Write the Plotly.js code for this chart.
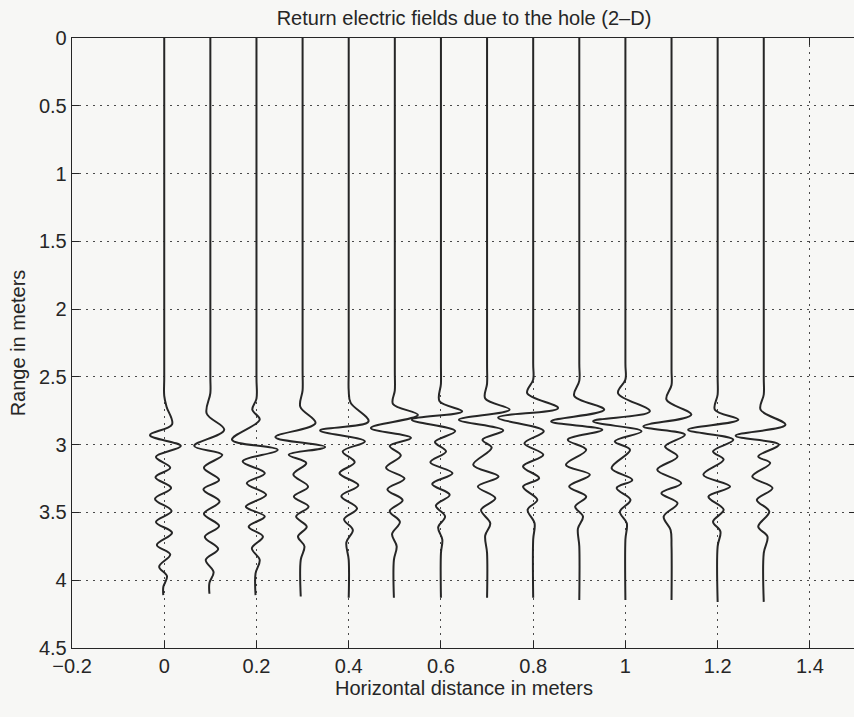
<!DOCTYPE html>
<html>
<head>
<meta charset="utf-8">
<script src="https://cdn.plot.ly/plotly-3.0.1.min.js"></script>
<style>
html, body { margin:0; padding:0; overflow:hidden; background:#f7f7f5; }
#chart { width:860px; height:717px; }
</style>
</head>
<body>
<div id="chart"></div>
<script>
// Horizontal positions of the 14 traces (meters)
const tracePositions = [0, 0.1, 0.2, 0.3, 0.4, 0.5, 0.6, 0.7, 0.8, 0.9, 1.0, 1.1, 1.2, 1.3];

// Each trace: range samples (m) and field deflection (in x-axis units)
const depth0 = [0, 2.5, 2.64, 2.72, 2.85, 2.93, 3.01, 3.09, 3.17, 3.24, 3.32, 3.40, 3.49, 3.57, 3.65, 3.74, 3.81, 3.90, 3.97, 4.05, 4.11];
const field0 = [0, 0, 0, 0.005, 0.017, -0.031, 0.036, -0.018, 0.013, -0.019, 0.015, -0.020, 0.016, -0.018, 0.017, -0.016, 0.013, -0.011, 0.006, -0.002, -0.002];

const depth1 = [0, 2.5, 2.62, 2.77, 2.89, 3.01, 3.075, 3.17, 3.26, 3.33, 3.42, 3.51, 3.60, 3.68, 3.77, 3.85, 3.94, 4.02, 4.10];
const field1 = [0, 0, 0, -0.008, 0.030, -0.035, 0.026, -0.014, 0.019, -0.015, 0.020, -0.014, 0.019, -0.012, 0.017, -0.010, 0.007, -0.002, -0.002];

const depth2 = [0, 2.5, 2.66, 2.742, 2.816, 2.964, 3.038, 3.124, 3.21, 3.284, 3.37, 3.457, 3.53, 3.605, 3.678, 3.764, 3.85, 3.95, 4.11];
const field2 = [0, 0, 0, -0.009, 0.007, -0.053, 0.046, -0.030, 0.018, -0.021, 0.021, -0.023, 0.018, -0.017, 0.014, -0.010, 0.007, -0.002, -0.002];

const depth3 = [0, 2.45, 2.6, 2.72, 2.84, 2.944, 3.018, 3.075, 3.136, 3.22, 3.31, 3.383, 3.457, 3.53, 3.605, 3.678, 3.75, 3.85, 4.12];
const field3 = [0, 0, 0, -0.005, 0.028, -0.059, 0.049, -0.030, 0.008, -0.020, 0.012, -0.019, 0.013, -0.014, 0.009, -0.010, 0.004, -0.004, -0.004];

const depth4 = [0, 2.45, 2.6, 2.69, 2.828, 2.895, 2.976, 3.05, 3.13, 3.21, 3.30, 3.38, 3.47, 3.55, 3.63, 3.72, 3.85, 4.13];
const field4 = [0, 0, 0, 0.004, 0.043, -0.062, 0.035, -0.013, 0.013, -0.020, 0.021, -0.016, 0.018, -0.010, 0.009, -0.005, 0, 0];

const depth5 = [0, 2.45, 2.6, 2.70, 2.78, 2.877, 2.95, 3.01, 3.08, 3.17, 3.25, 3.33, 3.41, 3.49, 3.57, 3.66, 3.75, 3.85, 4.13];
const field5 = [0, 0, 0, -0.004, 0.050, -0.052, 0.035, -0.011, 0.013, -0.019, 0.021, -0.016, 0.017, -0.011, 0.011, -0.006, 0.004, -0.002, -0.002];

const depth6 = [0, 2.4, 2.55, 2.68, 2.754, 2.816, 2.90, 2.98, 3.05, 3.13, 3.21, 3.29, 3.37, 3.45, 3.53, 3.61, 3.70, 3.80, 4.13];
const field6 = [0, 0, 0, -0.003, 0.046, -0.063, 0.031, -0.013, 0.011, -0.023, 0.025, -0.019, 0.019, -0.011, 0.009, -0.006, 0.003, 0, 0];

const depth7 = [0, 2.4, 2.55, 2.66, 2.742, 2.816, 2.895, 2.964, 3.023, 3.149, 3.235, 3.309, 3.395, 3.481, 3.58, 3.67, 3.80, 4.13];
const field7 = [0, 0, 0, -0.004, 0.049, -0.061, 0.035, -0.010, 0.010, -0.030, 0.025, -0.020, 0.018, -0.013, 0.007, -0.004, 0, 0];

const depth8 = [0, 2.4, 2.52, 2.62, 2.73, 2.80, 2.90, 2.99, 3.075, 3.16, 3.247, 3.31, 3.407, 3.48, 3.58, 3.70, 4.13];
const field8 = [0, 0, 0, -0.013, 0.054, -0.076, 0.023, -0.019, 0.022, -0.022, 0.013, -0.022, 0.009, -0.012, 0.003, 0, 0];

const depth9 = [0, 2.4, 2.53, 2.64, 2.742, 2.828, 2.89, 2.964, 3.038, 3.149, 3.222, 3.309, 3.383, 3.457, 3.53, 3.62, 3.75, 4.146];
const field9 = [0, 0, 0, -0.011, 0.054, -0.061, 0.050, -0.025, 0.015, -0.029, 0.023, -0.022, 0.015, -0.009, 0.008, -0.003, 0, 0];

const depth10 = [0, 2.4, 2.52, 2.62, 2.754, 2.828, 2.902, 2.976, 3.038, 3.173, 3.26, 3.32, 3.407, 3.494, 3.58, 3.70, 4.146];
const field10 = [0, 0, 0, -0.016, 0.053, -0.070, 0.035, -0.023, 0.010, -0.030, 0.015, -0.019, 0.011, -0.012, 0.003, 0, 0];

const depth11 = [0, 2.45, 2.56, 2.668, 2.779, 2.865, 2.927, 3.013, 3.087, 3.185, 3.284, 3.358, 3.432, 3.53, 3.63, 3.75, 4.146];
const field11 = [0, 0, 0, -0.011, 0.043, -0.061, 0.029, -0.014, 0.013, -0.031, 0.021, -0.022, 0.013, -0.017, -0.002, 0, 0];

const depth12 = [0, 2.5, 2.63, 2.742, 2.816, 2.89, 2.964, 3.05, 3.11, 3.222, 3.309, 3.383, 3.48, 3.568, 3.641, 3.75, 4.16];
const field12 = [0, 0, 0, -0.006, 0.045, -0.064, 0.034, -0.010, 0.013, -0.031, 0.027, -0.020, 0.013, -0.010, 0.006, 0, 0];

const depth13 = [0, 2.5, 2.63, 2.742, 2.853, 2.934, 3.0, 3.087, 3.136, 3.235, 3.32, 3.407, 3.494, 3.605, 3.678, 3.80, 4.16];
const field13 = [0, 0, 0, -0.007, 0.047, -0.061, 0.033, -0.012, 0.014, -0.025, 0.019, -0.015, 0.012, -0.012, 0.008, 0, 0];

// Axis ticks
const xTickVals = [-0.2, 0, 0.2, 0.4, 0.6, 0.8, 1, 1.2, 1.4];
const xTickText = ['\u22120.2', '0', '0.2', '0.4', '0.6', '0.8', '1', '1.2', '1.4'];
const yTickVals = [0, 0.5, 1, 1.5, 2, 2.5, 3, 3.5, 4, 4.5];
const yTickText = ['0', '0.5', '1', '1.5', '2', '2.5', '3', '3.5', '4', '4.5'];

const depths = [depth0, depth1, depth2, depth3, depth4, depth5, depth6, depth7, depth8, depth9, depth10, depth11, depth12, depth13];
const fields = [field0, field1, field2, field3, field4, field5, field6, field7, field8, field9, field10, field11, field12, field13];

const ink = '#262626';
const data = tracePositions.map((pos, i) => ({
  type: 'scatter',
  mode: 'lines',
  x: fields[i].map(v => pos + v),
  y: depths[i],
  line: { color: ink, width: 2, shape: 'spline', smoothing: 1 },
  hoverinfo: 'skip'
}));

const axisCommon = {
  ticks: 'inside', ticklen: 7, tickwidth: 1, tickcolor: ink,
  showline: true, linecolor: ink, linewidth: 1.3, mirror: 'ticks',
  showgrid: true, gridcolor: '#4a4a4a', griddash: '2px,5px', gridwidth: 1,
  zeroline: false, tickfont: { size: 20, color: ink }
};

const layout = {
  width: 860, height: 717,
  margin: { l: 72, r: 4, t: 38, b: 69, pad: 0 },
  paper_bgcolor: '#f7f7f5', plot_bgcolor: '#f7f7f5',
  font: { family: '"Liberation Sans", Arial, Helvetica, sans-serif', size: 20, color: ink },
  showlegend: false,
  title: { text: 'Return electric fields due to the hole (2\u2013D)', xref: 'paper', x: 0.5, xanchor: 'center',
           yref: 'container', y: 0.975, yanchor: 'middle', font: { size: 20, color: ink } },
  xaxis: Object.assign({}, axisCommon, {
    range: [-0.2, 1.5], tickmode: 'array', tickvals: xTickVals, ticktext: xTickText,
    title: { text: 'Horizontal distance in meters', font: { size: 20, color: ink }, standoff: 4 }
  }),
  yaxis: Object.assign({}, axisCommon, {
    range: [4.5, 0], tickmode: 'array', tickvals: yTickVals, ticktext: yTickText,
    title: { text: 'Range in meters', font: { size: 20, color: ink }, standoff: 8 }
  })
};

Plotly.newPlot('chart', data, layout, { displayModeBar: false, staticPlot: true });
</script>
</body>
</html>
